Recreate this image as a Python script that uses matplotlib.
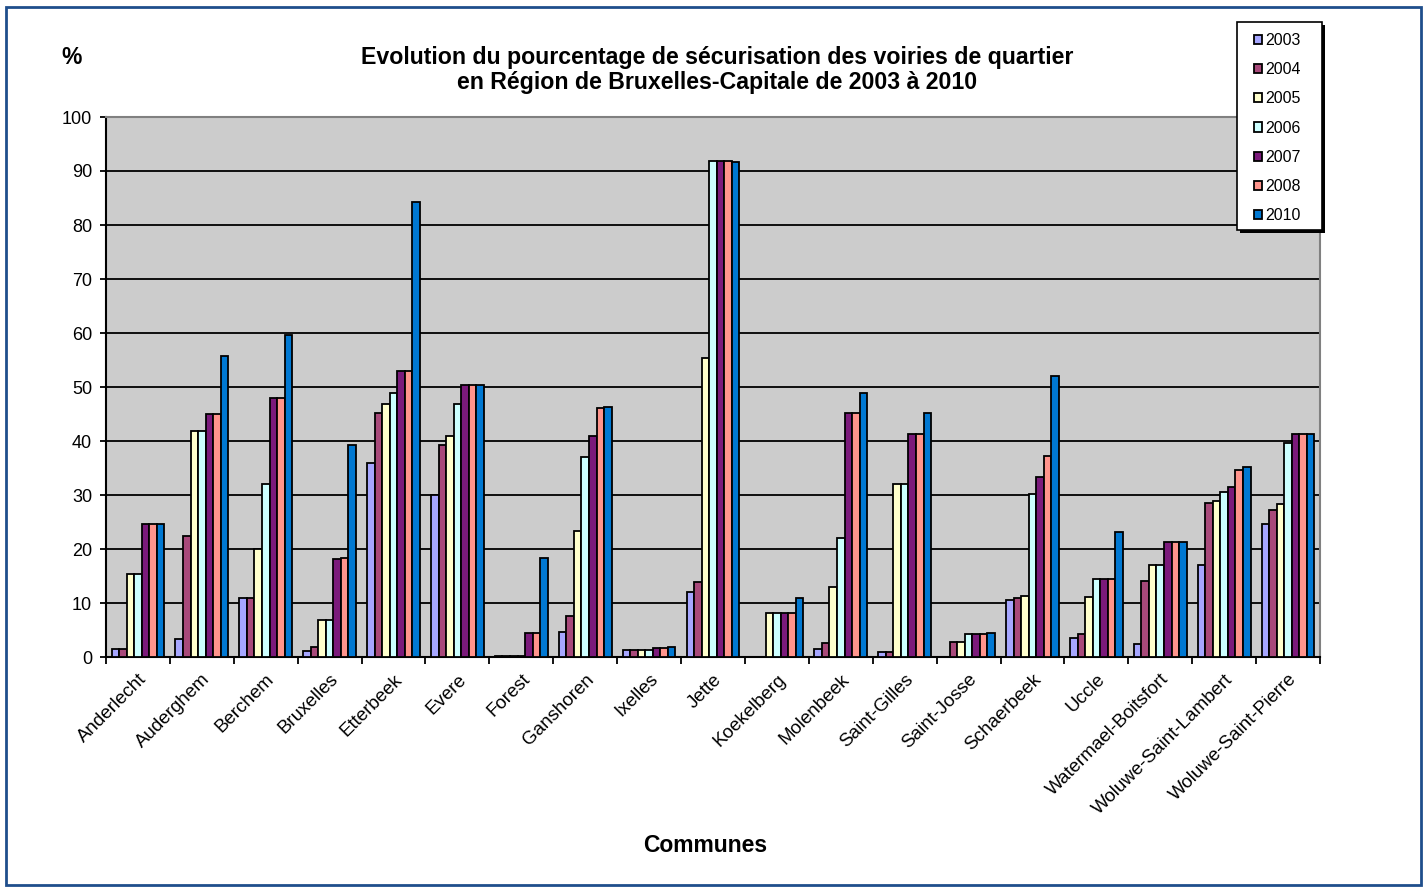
import numpy as np
import matplotlib as mpl
mpl.use('Agg')
import matplotlib.pyplot as plt
from matplotlib.patches import Rectangle

communes = ["Anderlecht", "Auderghem", "Berchem", "Bruxelles", "Etterbeek", "Evere",
            "Forest", "Ganshoren", "Ixelles", "Jette", "Koekelberg", "Molenbeek",
            "Saint-Gilles", "Saint-Josse", "Schaerbeek", "Uccle", "Watermael-Boitsfort",
            "Woluwe-Saint-Lambert", "Woluwe-Saint-Pierre"]
years = ["2003", "2004", "2005", "2006", "2007", "2008", "2010"]

v2003 = [1.4, 3.3, 11.0, 1.2, 35.9, 30.0, 0.1, 4.6, 1.3, 12.1, 0.0, 1.4, 0.9, 0.0, 10.6, 3.5, 2.5, 17.1, 24.6]
v2004 = [1.4, 22.4, 11.0, 1.8, 45.1, 39.2, 0.1, 7.6, 1.3, 13.9, 0.0, 2.6, 0.9, 2.7, 11.0, 4.2, 14.1, 28.6, 27.3]
v2005 = [15.3, 41.8, 20.0, 6.9, 46.8, 41.0, 0.1, 23.4, 1.3, 55.4, 8.1, 12.9, 32.0, 2.7, 11.3, 11.1, 17.0, 28.8, 28.3]
v2006 = [15.3, 41.8, 32.0, 6.9, 48.8, 46.9, 0.1, 37.1, 1.3, 91.8, 8.1, 22.0, 32.0, 4.2, 30.1, 14.5, 17.0, 30.5, 39.6]
v2007 = [24.6, 45.0, 48.0, 18.1, 53.0, 50.4, 4.5, 41.0, 1.7, 91.8, 8.1, 45.1, 41.3, 4.2, 33.4, 14.5, 21.3, 31.5, 41.3]
v2008 = [24.6, 45.0, 48.0, 18.3, 53.0, 50.4, 4.5, 46.2, 1.7, 91.8, 8.1, 45.1, 41.3, 4.2, 37.2, 14.5, 21.3, 34.7, 41.3]
v2010 = [24.6, 55.8, 59.6, 39.2, 84.3, 50.4, 18.4, 46.3, 1.9, 91.6, 10.9, 48.9, 45.1, 4.4, 52.1, 23.1, 21.3, 35.1, 41.3]
series = [v2003, v2004, v2005, v2006, v2007, v2008, v2010]

colors = ["#A6A6FF", "#A8497A", "#FFFFCC", "#CCFFFF", "#7B1A7B", "#FF948C", "#0078D2"]

mpl.rcParams['font.family'] = ['Liberation Sans', 'DejaVu Sans']

W, H = 1427, 892
fig = plt.figure(figsize=(W/100, H/100), dpi=100)
fig.patches.append(Rectangle((6/W, 7/H), 1415/W, 878/H, transform=fig.transFigure,
                             fill=False, edgecolor="#1F4E8C", linewidth=2.0, zorder=0))

ax = fig.add_axes([106/W, 1-657/H, (1320-106)/W, (657-117)/H])
ax.set_facecolor("#CCCCCC")

x = np.arange(len(communes))
w = 0.118
for i, (yr, vals) in enumerate(zip(years, series)):
    ax.bar(x + (i - 3) * w, vals, width=w, color=colors[i], edgecolor="black",
           linewidth=1.3, label=yr, zorder=3)

ax.set_xlim(-0.5, len(communes) - 0.5)
ax.set_ylim(0, 100)
ax.set_yticks(np.arange(0, 101, 10))
ax.yaxis.grid(True, color="black", linewidth=1.3, zorder=1)
ax.set_axisbelow(True)

ax.set_xticks(x)
ax.set_xticklabels(communes, rotation=45, ha="right", rotation_mode="anchor", fontsize=13.5)
ax.tick_params(axis="x", length=0, pad=10)
ax.set_xticks(np.arange(-0.5, len(communes)), minor=True)
ax.tick_params(axis="x", which="minor", length=5, width=1.3, direction="out")
ax.tick_params(axis="y", labelsize=13, length=4, width=1.3, direction="out", pad=6)

for s in ["top", "right"]:
    ax.spines[s].set_color("#808080")
    ax.spines[s].set_linewidth(1.5)
for s in ["left", "bottom"]:
    ax.spines[s].set_color("black")
    ax.spines[s].set_linewidth(1.5)

fig.text(717/W, 1-70/H, "Evolution du pourcentage de sécurisation des voiries de quartier\n"
         "en Région de Bruxelles-Capitale de 2003 à 2010",
         ha="center", va="center", fontsize=16.7, fontweight="bold", linespacing=1.1)
fig.text(72/W, 1-58/H, "%", ha="center", va="center", fontsize=16.5, fontweight="bold")
fig.text(705/W, 1-845/H, "Communes", ha="center", va="center", fontsize=16.5, fontweight="bold")

# legend box with shadow, drawn by hand
fig.patches.append(Rectangle((1240/W, 1-233/H), 85/W, 208/H, transform=fig.transFigure,
                             facecolor="black", edgecolor="none", zorder=5))
fig.patches.append(Rectangle((1237/W, 1-230/H), 85/W, 208/H, transform=fig.transFigure,
                             facecolor="white", edgecolor="black", linewidth=1.2, zorder=6))
leg = fig.legend(loc="upper left", bbox_to_anchor=(1254/W, 1-33/H), fontsize=11.5,
                 frameon=False, handlelength=0.52, handleheight=0.52,
                 handletextpad=0.2, labelspacing=0.89, borderpad=0, borderaxespad=0)
leg.set_zorder(7)

fig.savefig("out.png", dpi=100)
